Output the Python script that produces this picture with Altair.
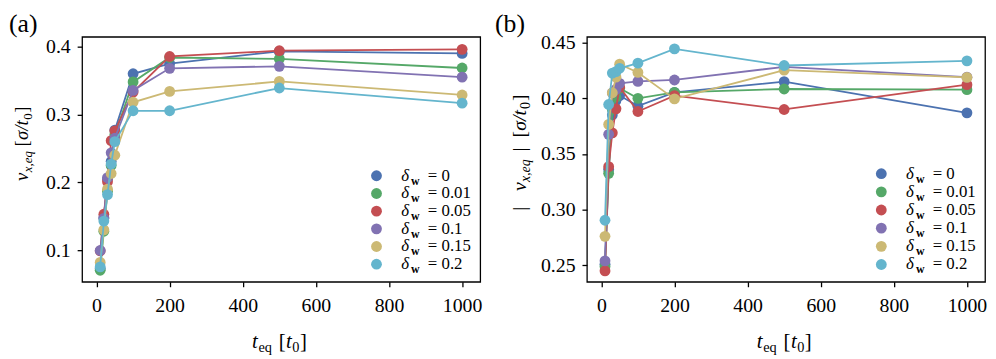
import altair as alt
import pandas as pd

# ---------------- data ----------------
T_EQ = [10, 20, 30, 40, 50, 100, 200, 500, 1000]
DELTA_LABELS = ["0", "0.01", "0.05", "0.1", "0.15", "0.2"]
PALETTE = ["#4C72B0", "#55A868", "#C44E52", "#8172B2", "#CCB974", "#64B5CD"]

# panel (a): v_x,eq [sigma/t0]
VX_D0 = [0.073, 0.148, 0.205, 0.231, 0.277, 0.360, 0.375, 0.393, 0.390]
VX_D001 = [0.0705, 0.128, 0.187, 0.225, 0.270, 0.348, 0.384, 0.382, 0.3685]
VX_D005 = [0.099, 0.153, 0.201, 0.2615, 0.276, 0.333, 0.3855, 0.394, 0.396]
VX_D01 = [0.0996, 0.147, 0.207, 0.2435, 0.265, 0.3355, 0.368, 0.371, 0.355]
VX_D015 = [0.082, 0.130, 0.190, 0.213, 0.240, 0.318, 0.334, 0.3487, 0.3288]
VX_D02 = [0.0754, 0.143, 0.182, 0.227, 0.260, 0.3055, 0.3055, 0.339, 0.3167]

# panel (b): |v_x,eq| [sigma/t0]
AV_D0 = [0.251, 0.336, 0.385, 0.398, 0.4025, 0.393, 0.4054, 0.415, 0.387]
AV_D001 = [0.249, 0.3326, 0.390, 0.401, 0.409, 0.400, 0.4054, 0.4084, 0.4078]
AV_D005 = [0.245, 0.3386, 0.369, 0.3906, 0.410, 0.3882, 0.4025, 0.390, 0.4123]
AV_D01 = [0.254, 0.3677, 0.4048, 0.408, 0.4135, 0.4152, 0.4165, 0.4283, 0.419]
AV_D015 = [0.276, 0.3766, 0.405, 0.419, 0.4307, 0.4233, 0.3995, 0.4253, 0.4188]
AV_D02 = [0.2905, 0.3945, 0.4227, 0.424, 0.427, 0.4316, 0.4445, 0.4295, 0.4337]

X_TICKS = [0, 200, 400, 600, 800, 1000]
YA_TICKS = [0.1, 0.2, 0.3, 0.4]
YB_TICKS = [0.25, 0.30, 0.35, 0.40, 0.45]

FONT = "Liberation Serif, DejaVu Serif, serif"
W, H = 403, 248


def long_df(series):
    rows = []
    for k, vals in enumerate(series):
        for t, v in zip(T_EQ, vals):
            rows.append({"t": t, "v": v, "k": k})
    return pd.DataFrame(rows)


LEG_DF = pd.DataFrame({"k": list(range(len(DELTA_LABELS))),
                       "lab": ["= " + d for d in DELTA_LABELS]})
ONE = pd.DataFrame({"o": [0]})


def piece(s, x, y, size, dx=0, dy=0, angle=0, italic=False, bold=False):
    kw = dict(text=s, font=FONT, fontSize=size, align="left",
              baseline="alphabetic", color="black")
    if dx:
        kw["dx"] = dx
    if dy:
        kw["dy"] = dy
    if angle:
        kw["angle"] = angle
    if italic:
        kw["fontStyle"] = "italic"
    if bold:
        kw["fontWeight"] = "bold"
    return alt.Chart(ONE).mark_text(**kw).encode(x=alt.value(x), y=alt.value(y))


def xtitle():
    x0, y0 = 172, 315
    return [
        piece("t", x0, y0, 21, italic=True),
        piece("eq", x0, y0, 14.5, dx=6.5, dy=4),
        piece("[", x0, y0, 21, dx=27),
        piece("t", x0, y0, 21, dx=34.5, italic=True),
        piece("0", x0, y0, 14.5, dx=40.8, dy=4),
        piece("]", x0, y0, 21, dx=48.5),
    ]


def ytitle_a():
    x0, y0 = -55, 146
    a = 270
    return [
        piece("v", x0, y0, 19, angle=a, italic=True),
        piece("x,eq", x0, y0, 13, dx=9, dy=4, angle=a, italic=True),
        piece("[", x0, y0, 19, dx=35, angle=a),
        piece("σ/t", x0, y0, 19, dx=41.5, angle=a, italic=True),
        piece("0", x0, y0, 13, dx=62, dy=4, angle=a),
        piece("]", x0, y0, 19, dx=69, angle=a),
    ]


def ytitle_b():
    x0, y0 = -62, 178
    a = 270
    return [
        piece("|", x0, y0, 20, dx=2, angle=a),
        piece("v", x0, y0, 20, dx=22, angle=a, italic=True),
        piece("x,eq", x0, y0, 14, dx=31, dy=4, angle=a, italic=True),
        piece("|", x0, y0, 20, dx=62, angle=a),
        piece("[", x0, y0, 20, dx=76, angle=a),
        piece("σ/t", x0, y0, 20, dx=83, angle=a, italic=True),
        piece("0", x0, y0, 14, dx=105, dy=4, angle=a),
        piece("]", x0, y0, 20, dx=113, angle=a),
    ]


def panel(series, ydom, yticks, yfmt, leg_y0, leg_step, tag, tag_x, ytitle):
    df = long_df(series)
    X = alt.X("t:Q", scale=alt.Scale(domain=[-39.5, 1049.5], nice=False, zero=False),
              axis=alt.Axis(values=X_TICKS, format="d", title=None))
    Y = alt.Y("v:Q", scale=alt.Scale(domain=ydom, nice=False, zero=False),
              axis=alt.Axis(values=yticks, format=yfmt, title=None))
    layers = []
    base = alt.Chart(df)
    for k in range(len(series)):
        sub = base.transform_filter(alt.datum.k == k)
        layers.append(sub.mark_line(color=PALETTE[k], strokeWidth=1.8).encode(x=X, y=Y))
        layers.append(sub.mark_circle(color=PALETTE[k], size=120, opacity=1).encode(x=X, y=Y))
    leg = alt.Chart(LEG_DF).transform_calculate(v=f"{leg_y0} - datum.k * {leg_step}")
    layers.append(leg.mark_circle(size=120, opacity=1).encode(
        x=alt.value(298), y=Y,
        color=alt.Color("k:O", scale=alt.Scale(domain=list(range(6)), range=PALETTE), legend=None)))
    layers.append(leg.mark_text(text="δ", font=FONT, fontSize=17, fontStyle="italic",
                                align="left", baseline="middle", color="black")
                  .encode(x=alt.value(323), y=Y))
    layers.append(leg.mark_text(text="w", font=FONT, fontSize=12, fontWeight="bold",
                                align="left", baseline="middle", dy=5, color="black")
                  .encode(x=alt.value(333), y=Y))
    layers.append(leg.mark_text(font=FONT, fontSize=17, align="left", baseline="middle",
                                color="black")
                  .encode(x=alt.value(350), y=Y, text="lab:N"))
    layers += xtitle()
    layers += ytitle
    layers.append(piece(tag, tag_x, -5, 26))
    return alt.layer(*layers).properties(width=W, height=H)


left = panel([VX_D0, VX_D001, VX_D005, VX_D01, VX_D015, VX_D02],
             [0.0535, 0.4145], YA_TICKS, ".1f", 0.2097, 0.02606, "(a)", -74, ytitle_a())
right = panel([AV_D0, AV_D001, AV_D005, AV_D01, AV_D015, AV_D02],
              [0.2352, 0.4553], YB_TICKS, ".2f", 0.3323, 0.01631, "(b)", -93, ytitle_b())

chart = alt.hconcat(left, right, spacing=11).properties(padding=0).configure_view(
    stroke="black", strokeWidth=1.3
).configure_axis(
    domain=False, grid=False, ticks=True, tickColor="black", tickSize=5, tickWidth=1.3,
    labelFont=FONT, labelFontSize=20, labelColor="black", labelFlush=False,
    labelOverlap=False
).configure_axisX(labelPadding=9).configure_axisY(labelPadding=7)

chart.save("out.html", embed_options={"renderer": "svg", "actions": False})
